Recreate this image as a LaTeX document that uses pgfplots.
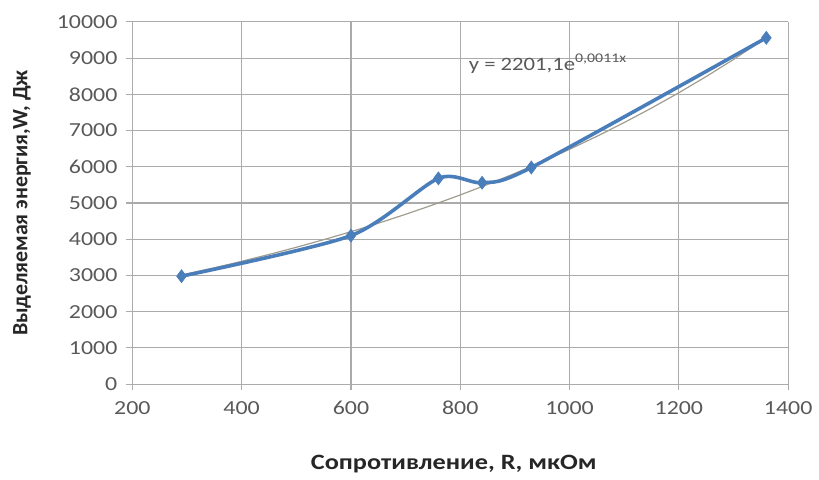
\documentclass[border=0pt]{standalone}
\usepackage{fontspec}
\setmainfont{Carlito}[FakeStretch=1.2]
\newfontfamily\yfont{Carlito}
\usepackage{pgfplots}
\pgfplotsset{compat=1.18}
\definecolor{serblue}{HTML}{4A7EBB}
\definecolor{gridgray}{HTML}{ABABAB}
\definecolor{txtgray}{HTML}{595959}
\definecolor{trendgray}{HTML}{A09C90}
\begin{document}
\begin{tikzpicture}
\begin{axis}[
  scale only axis,
  width=329.5pt, height=182pt,
  xmin=200, xmax=1400, ymin=0, ymax=10000,
  xtick={200,400,...,1400},
  ytick={0,1000,...,10000},
  scaled ticks=false,
  grid=major,
  grid style={gridgray, line width=0.6pt},
  axis lines*=left,
  axis line style={gridgray, line width=0.6pt},
  tick style={gridgray, line width=0.6pt},
  tick align=outside,
  major tick length=3pt,
  /pgf/number format/assume math mode=true,
  /pgf/number format/set thousands separator={},
  /pgf/number format/fixed,
  ticklabel style={font=\fontsize{10}{12}\selectfont, text=txtgray},
  xticklabel style={yshift=-2pt},
  yticklabel style={xshift=-1pt},
  xlabel={\bfseries Сопротивление, R, мкОм},
  ylabel={\yfont\bfseries Выделяемая энергия,W, Дж},
  label style={font=\fontsize{11}{13}\selectfont, text=black!85},
  xlabel style={at={(axis description cs:0.49,-0.22)}, anchor=center},
  ylabel style={at={(axis description cs:-0.168,0.5)}, anchor=center, rotate=0},
  clip=false,
]
\path (axis description cs:-0.2018,-0.261) rectangle (axis description cs:1.041,1.0604);
% exponential trendline
\addplot[trendgray, line width=0.6pt] coordinates {
(290,3011) (350,3212) (400,3390) (450,3579) (500,3777) (550,3987)
(600,4208) (650,4441) (700,4688) (750,4948) (800,5222) (850,5512)
(900,5818) (950,6141) (1000,6482) (1050,6841) (1100,7221) (1150,7621)
(1200,8044) (1250,8491) (1300,8962) (1360,9562)};
% data
\addplot[serblue, line width=1.8pt, smooth, tension=0.45, mark=diamond*, mark size=3.2pt,
  mark options={fill=serblue, draw=serblue, line width=0.4pt}] coordinates {
(290,2980) (600,4100) (760,5680) (840,5560) (930,5980) (1360,9560)};
\node[anchor=west, inner sep=0pt, font=\fontsize{9.5}{11}\selectfont, text=txtgray] at (axis cs:815,8850) {y = 2201,1e\textsuperscript{0,0011x}};
\end{axis}
\end{tikzpicture}
\end{document}
